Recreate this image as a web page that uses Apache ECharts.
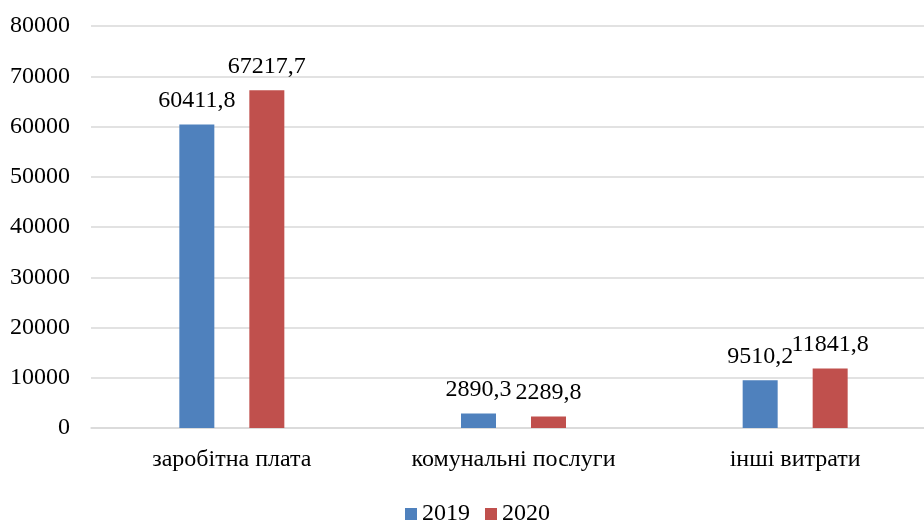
<!DOCTYPE html>
<html><head><meta charset="utf-8">
<script src="https://cdn.jsdelivr.net/npm/echarts@6/dist/echarts.min.js"></script>
<style>html,body{margin:0;padding:0;background:#fff}#c{width:924px;height:523px}</style>
</head><body><div id="c"></div>
<script>
const categories = ['заробітна плата', 'комунальні послуги', 'інші витрати'];
const values2019 = [60411.8, 2890.3, 9510.2];
const values2020 = [67217.7, 2289.8, 11841.8];
const seriesNames = ['2019', '2020'];
const yTicks = { min: 0, max: 80000, interval: 10000 };

const font = "'Liberation Serif', 'Times New Roman', serif";
const fmt = v => String(v.value).replace('.', ',');
const chart = echarts.init(document.getElementById('c'));
chart.setOption({
  animation: false,
  textStyle: { fontFamily: font },
  grid: { left: 91, width: 845, top: 26, bottom: 95, containLabel: false, outerBoundsMode: 'none' },
  legend: {
    top: 502, left: 405, padding: 0, itemWidth: 12, itemHeight: 12, itemGap: 15,
    icon: 'rect',
    textStyle: { fontFamily: font, fontSize: 24, color: '#000' },
    data: seriesNames
  },
  xAxis: {
    type: 'category', data: categories,
    axisLine: { lineStyle: { color: '#d9d9d9', width: 1.5 } },
    axisTick: { show: false },
    axisLabel: { fontFamily: font, fontSize: 24, color: '#000', margin: 20 }
  },
  yAxis: {
    type: 'value', min: yTicks.min, max: yTicks.max, interval: yTicks.interval,
    axisLine: { show: false }, axisTick: { show: false },
    axisLabel: { fontFamily: font, fontSize: 24, color: '#000', margin: 21, formatter: v => String(v) },
    splitLine: { lineStyle: { color: '#d9d9d9', width: 1.5 } }
  },
  series: [
    { name: seriesNames[0], type: 'bar', data: values2019, barWidth: 35, barGap: '100%',
      itemStyle: { color: '#4f81bd' },
      label: { show: true, position: 'top', distance: 12, formatter: fmt, fontFamily: font, fontSize: 24, color: '#000' } },
    { name: seriesNames[1], type: 'bar', data: values2020, barWidth: 35,
      itemStyle: { color: '#c0504d' },
      label: { show: true, position: 'top', distance: 12, formatter: fmt, fontFamily: font, fontSize: 24, color: '#000' } }
  ]
});
</script></body></html>
